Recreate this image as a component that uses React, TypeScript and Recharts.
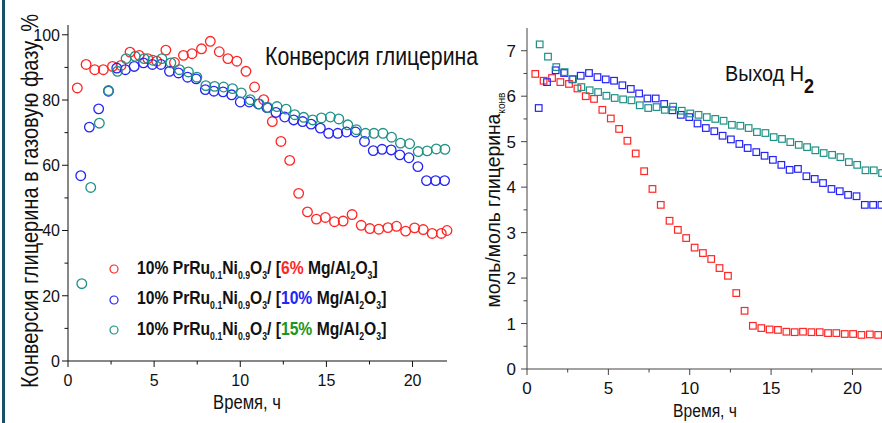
import React from 'react'
import { ScatterChart, Scatter, XAxis, YAxis } from 'recharts'

const FONT = '"Liberation Sans", Arial, sans-serif'

const RED = '#ff2626'
const BLUE = '#2424f5'
const TEAL = '#1f9186'
const GREEN = '#1c961c'

// left chart: glycerol conversion, % (time in h)
const conv6: [number, number][] = [
  [0.54, 83.7], [1.05, 90.9], [1.55, 89.3], [2.05, 89.3], [2.58, 90.3], [3.08, 90.6], [3.6, 94.7], [4.13, 93.7],
  [4.63, 92.7], [5.15, 91.9], [5.68, 95.3], [6.18, 91.5], [6.7, 93.7], [7.2, 94.2], [7.75, 95.7], [8.26, 98],
  [8.78, 94.8], [9.28, 92.7], [9.8, 91.9], [10.33, 88.8], [10.83, 84], [11.36, 80.1], [11.86, 73.4], [12.36, 67.3],
  [12.87, 61.5], [13.39, 51.4], [13.9, 45.7], [14.42, 43.5], [14.94, 44], [15.47, 42.7], [15.97, 42.9], [16.49, 44.9],
  [17.02, 41.6], [17.52, 40.6], [18.04, 40.4], [18.57, 40.9], [19.07, 41.3], [19.6, 39.8], [20.12, 40.8], [20.62, 40.3],
  [21.14, 39.1], [21.67, 39.1], [22.0, 40],
]
const conv10: [number, number][] = [
  [0.74, 56.8], [1.24, 71.7], [1.78, 77.3], [2.35, 82.7], [2.83, 89.8], [3.33, 89.3], [3.84, 90.3], [4.38, 91.4],
  [4.9, 90.9], [5.39, 90.9], [5.89, 88.8], [6.41, 88.3], [6.94, 87], [7.44, 86.5], [7.97, 83.2], [8.47, 82.7],
  [9.0, 82.5], [9.5, 81.6], [10.0, 79.4], [10.52, 79.4], [11.05, 78.8], [11.55, 77.7], [12.07, 76.2], [12.58, 74.8],
  [13.1, 73.9], [13.62, 73.4], [14.11, 72.6], [14.65, 71.4], [15.13, 69.8], [15.66, 69.8], [16.16, 70.2], [16.69, 70.2],
  [17.21, 67.3], [17.72, 64.5], [18.23, 64.9], [18.76, 64.7], [19.26, 63.2], [19.79, 62.3], [20.31, 59.6], [20.81, 55.3],
  [21.34, 55.3], [21.86, 55.3],
]
const conv15: [number, number][] = [
  [0.8, 23.7], [1.32, 53.2], [1.82, 72.9], [2.35, 82.9], [2.87, 88.8], [3.37, 92.7], [3.9, 93.4], [4.42, 92.7],
  [4.92, 92.2], [5.45, 92.7], [5.97, 91.4], [6.47, 89.3], [6.99, 88.6], [7.48, 87], [8.0, 84.4], [8.51, 84.2],
  [9.03, 84], [9.55, 83.5], [10.06, 82.2], [10.58, 80.1], [11.1, 78.8], [11.61, 77.7], [12.13, 78], [12.66, 77.2],
  [13.16, 75.5], [13.68, 74.7], [14.2, 73.9], [14.71, 74.5], [15.23, 74.8], [15.72, 74.2], [16.24, 72.4], [16.74, 70.9],
  [17.27, 69.8], [17.76, 69.8], [18.28, 69.8], [18.78, 68.6], [19.3, 66.8], [19.83, 66.6], [20.33, 64.2], [20.85, 64.4],
  [21.38, 65], [21.88, 64.9],
]

// right chart: H2 yield, mol/mol converted glycerol
const h2y6: [number, number][] = [
  [0.51, 6.49], [1.02, 6.34], [1.54, 6.4], [2.05, 6.31], [2.58, 6.27], [3.1, 6.17], [3.61, 6.0], [4.12, 5.94],
  [4.63, 5.7], [5.15, 5.51], [5.66, 5.28], [6.17, 5.02], [6.68, 4.74], [7.2, 4.35], [7.71, 3.96], [8.22, 3.61],
  [8.76, 3.26], [9.27, 3.06], [9.78, 2.88], [10.3, 2.67], [10.81, 2.55], [11.32, 2.42], [11.83, 2.22], [12.35, 2.05],
  [12.86, 1.67], [13.37, 1.28], [13.88, 0.95], [14.4, 0.9], [14.91, 0.87], [15.42, 0.86], [15.94, 0.82], [16.45, 0.81],
  [16.96, 0.82], [17.48, 0.81], [17.99, 0.81], [18.5, 0.79], [19.01, 0.79], [19.53, 0.77], [20.04, 0.77], [20.55, 0.75],
  [21.07, 0.76], [21.58, 0.75],
]
const h2y10: [number, number][] = [
  [0.72, 5.74], [1.23, 6.31], [1.76, 6.57], [2.28, 6.51], [2.79, 6.37], [3.3, 6.45], [3.81, 6.51], [4.33, 6.42],
  [4.84, 6.37], [5.35, 6.34], [5.86, 6.24], [6.38, 6.16], [6.89, 6.06], [7.4, 5.95], [7.91, 5.95], [8.43, 5.83],
  [8.94, 5.69], [9.45, 5.59], [9.97, 5.54], [10.48, 5.4], [10.99, 5.3], [11.51, 5.23], [12.02, 5.13], [12.53, 5.05],
  [13.05, 4.95], [13.56, 4.86], [14.09, 4.77], [14.6, 4.69], [15.11, 4.6], [15.63, 4.49], [16.14, 4.38], [16.65, 4.4],
  [17.17, 4.24], [17.68, 4.18], [18.19, 4.09], [18.71, 3.96], [19.22, 3.91], [19.73, 3.83], [20.25, 3.8], [20.76, 3.61],
  [21.27, 3.61], [21.78, 3.61],
]
const h2y15: [number, number][] = [
  [0.78, 7.14], [1.29, 6.87], [1.8, 6.64], [2.31, 6.53], [2.83, 6.38], [3.34, 6.2], [3.85, 6.13], [4.37, 6.09],
  [4.88, 6.01], [5.39, 5.96], [5.91, 5.93], [6.42, 5.91], [6.93, 5.8], [7.45, 5.74], [7.96, 5.76], [8.47, 5.7],
  [8.98, 5.77], [9.51, 5.68], [10.03, 5.62], [10.54, 5.59], [11.05, 5.54], [11.57, 5.5], [12.08, 5.46], [12.59, 5.37],
  [13.11, 5.35], [13.62, 5.3], [14.13, 5.21], [14.65, 5.19], [15.16, 5.1], [15.67, 5.06], [16.18, 4.99], [16.7, 4.93],
  [17.21, 4.88], [17.72, 4.81], [18.23, 4.75], [18.75, 4.71], [19.26, 4.66], [19.78, 4.55], [20.29, 4.49], [20.8, 4.37],
  [21.31, 4.37], [21.82, 4.31],
]

const TIME_TICKS = [0, 2.5, 5, 7.5, 10, 12.5, 15, 17.5, 20]
const CONV_TICKS = [0, 10, 20, 30, 40, 50, 60, 70, 80, 90, 100]
const H2_TICKS = [0, 0.5, 1, 1.5, 2, 2.5, 3, 3.5, 4, 4.5, 5, 5.5, 6, 6.5, 7]

const LEGEND = [
  { pct: '6%', color: RED, marker: RED },
  { pct: '10%', color: BLUE, marker: BLUE },
  { pct: '15%', color: GREEN, marker: TEAL },
]

const toPts = (arr: [number, number][]) => arr.map(([t, v]) => ({ t, v }))

const circle = (color: string) => (p: any) => (
  <circle cx={p.cx} cy={p.cy} r={4.8} fill="none" stroke={color} strokeWidth={1.3} />
)
const square = (color: string) => (p: any) => (
  <rect x={p.cx - 3.3} y={p.cy - 3.3} width={6.6} height={6.6} fill="none" stroke={color} strokeWidth={1.2} />
)

// ticks drawn by hand so minor ticks can be shorter
const yTick = (step: number, color: string, fs: number, gap: number) => (p: any) => {
  const v = p.payload.value
  const major = Math.abs(v / step - Math.round(v / step)) < 1e-6
  return (
    <g>
      <line x1={p.x} x2={p.x - (major ? 6 : 3.5)} y1={p.y} y2={p.y} stroke={color} strokeWidth={1} />
      {major && (
        <text x={p.x - gap} y={p.y + fs * 0.36} textAnchor="end" fontSize={fs} fill="#111" fontFamily={FONT}>{v}</text>
      )}
    </g>
  )
}
const xTick = (color: string, fs: number, dy: number) => (p: any) => {
  const v = p.payload.value
  const major = v % 5 === 0
  return (
    <g>
      <line x1={p.x} x2={p.x} y1={p.y} y2={p.y + (major ? 6 : 3.5)} stroke={color} strokeWidth={1} />
      {major && (
        <text x={p.x} y={p.y + dy} textAnchor="middle" fontSize={fs} fill="#111" fontFamily={FONT}>{v}</text>
      )}
    </g>
  )
}

const sub = (s: string) => (
  <span style={{ fontSize: 10, position: 'relative', top: 5 }}>{s}</span>
)

export default function App() {
  return (
    <div style={{ position: 'absolute', left: 0, top: 0, width: 882, height: 423, overflow: 'hidden', background: '#fff', fontFamily: FONT }}>
      <div style={{ position: 'absolute', left: 2, top: 0, width: 3, height: 423, background: '#1b4f6a' }} />

      {/* left chart */}
      <div style={{ position: 'absolute', left: 0, top: 0 }}>
        <ScatterChart width={470} height={423} margin={{ top: 25, right: 23, left: 10, bottom: 22 }}>
          <XAxis
            type="number" dataKey="t" domain={[0, 22]} ticks={TIME_TICKS} interval={0}
            tickSize={0} tickMargin={0} height={40}
            axisLine={{ stroke: '#111' }} tick={xTick('#111', 16, 25)}
          />
          <YAxis
            type="number" dataKey="v" domain={[0, 103]} ticks={CONV_TICKS} interval={0}
            tickSize={0} tickMargin={0} width={58}
            axisLine={{ stroke: '#111' }} tick={yTick(20, '#111', 16, 8)}
          />
          <Scatter data={toPts(conv6)} shape={circle(RED)} isAnimationActive={false} />
          <Scatter data={toPts(conv10)} shape={circle(BLUE)} isAnimationActive={false} />
          <Scatter data={toPts(conv15)} shape={circle(TEAL)} isAnimationActive={false} />
        </ScatterChart>
      </div>

      {/* right chart */}
      <div style={{ position: 'absolute', left: 470, top: 0 }}>
        <ScatterChart width={420} height={423} margin={{ top: 28, right: 5, left: 10, bottom: 14 }}>
          <XAxis
            type="number" dataKey="t" domain={[0, 22]} ticks={TIME_TICKS} interval={0}
            tickSize={0} tickMargin={0} height={40}
            axisLine={{ stroke: '#444' }} tick={xTick('#444', 17, 25)}
          />
          <YAxis
            type="number" dataKey="v" domain={[0, 7.5]} ticks={H2_TICKS} interval={0}
            tickSize={0} tickMargin={0} width={47}
            axisLine={{ stroke: '#444' }} tick={yTick(1, '#444', 17, 11)}
          />
          <Scatter data={toPts(h2y6)} shape={square(RED)} isAnimationActive={false} />
          <Scatter data={toPts(h2y10)} shape={square(BLUE)} isAnimationActive={false} />
          <Scatter data={toPts(h2y15)} shape={square(TEAL)} isAnimationActive={false} />
        </ScatterChart>
      </div>

      {/* titles, squeezed to match the narrow face of the original */}
      <div style={{ position: 'absolute', left: 265, top: 44, fontSize: 25, lineHeight: '25px', color: '#111', whiteSpace: 'nowrap', transform: 'scaleX(0.85)', transformOrigin: 'left top' }}>
        Конверсия глицерина
      </div>
      <div style={{ position: 'absolute', left: 725, top: 63, fontSize: 22, lineHeight: '22px', color: '#111', whiteSpace: 'nowrap', transform: 'scaleX(0.9)', transformOrigin: 'left top' }}>
        Выход H<span style={{ fontSize: 20, fontWeight: 'bold', position: 'relative', top: 12 }}>2</span>
      </div>

      {/* axis titles */}
      <div style={{ position: 'absolute', left: 30, top: 201, transform: 'translate(-50%, -50%) rotate(-90deg) scaleX(0.87)', fontSize: 23, lineHeight: '23px', color: '#111', whiteSpace: 'nowrap' }}>
        Конверсия глицерина в газовую фазу, %
      </div>
      <div style={{ position: 'absolute', left: 494, top: 200, transform: 'translate(-50%, -50%) rotate(-90deg) scaleX(0.92)', fontSize: 21, lineHeight: '21px', color: '#111', whiteSpace: 'nowrap' }}>
        моль/моль глицерина<span style={{ fontSize: 11, position: 'relative', top: 5 }}>конв</span>
      </div>
      <div style={{ position: 'absolute', left: 247, top: 392, transform: 'translateX(-50%) scaleX(0.83)', fontSize: 20, lineHeight: '20px', color: '#111', whiteSpace: 'nowrap' }}>
        Время, ч
      </div>
      <div style={{ position: 'absolute', left: 705, top: 402, transform: 'translateX(-50%) scaleX(0.87)', fontSize: 18, lineHeight: '18px', color: '#111', whiteSpace: 'nowrap' }}>
        Время, ч
      </div>

      {/* legend */}
      <div style={{ position: 'absolute', left: 108, top: 254 }}>
        {LEGEND.map((l) => (
          <div key={l.pct} style={{ display: 'flex', alignItems: 'center', height: 30.5, whiteSpace: 'nowrap' }}>
            <svg width={12} height={12} style={{ marginRight: 17 }}>
              <circle cx={6} cy={6} r={4} fill="none" stroke={l.marker} strokeWidth={1.2} />
            </svg>
            <span style={{ display: 'inline-block', fontSize: 18, fontWeight: 'bold', color: '#111', lineHeight: '20px', transform: 'scaleX(0.87)', transformOrigin: 'left center' }}>
              10% PrRu{sub('0.1')}Ni{sub('0.9')}O{sub('3')}/ [<span style={{ color: l.color }}>{l.pct}</span> Mg/Al{sub('2')}O{sub('3')}]
            </span>
          </div>
        ))}
      </div>
    </div>
  )
}
